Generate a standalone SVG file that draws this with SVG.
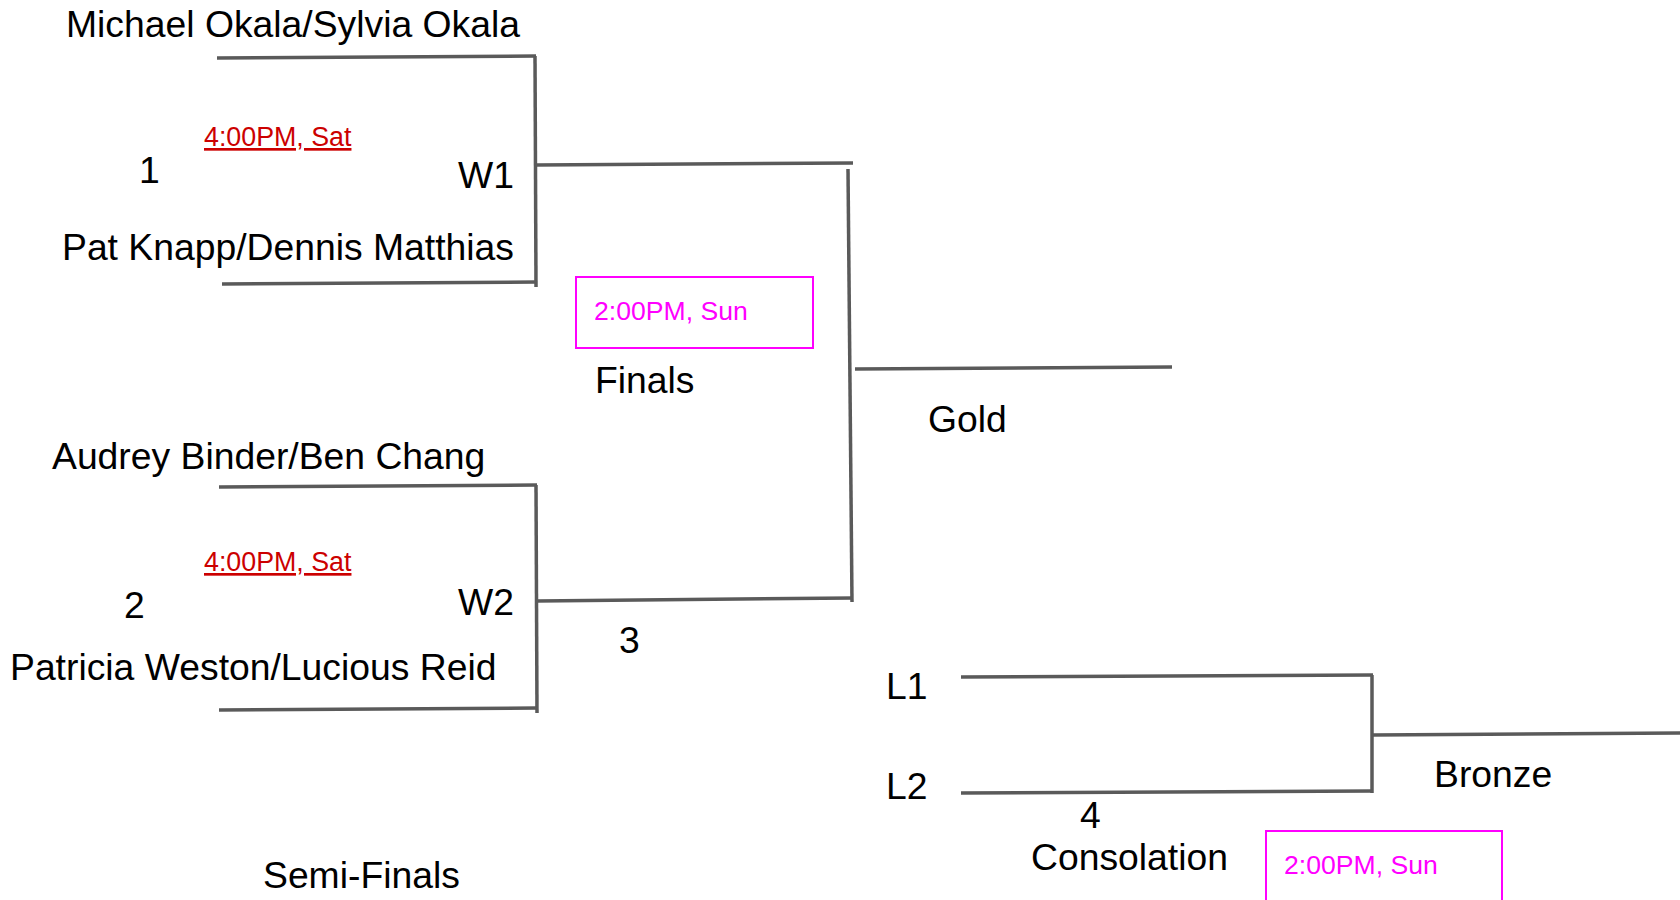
<svg xmlns="http://www.w3.org/2000/svg" width="1680" height="900" viewBox="0 0 1680 900">
<style>
.t{font-family:"Liberation Sans",Arial,sans-serif;font-size:37.3px;fill:#000}
.red{font-family:"Liberation Sans",Arial,sans-serif;font-size:26.8px;fill:#cc0000;text-decoration:underline}
.mag{font-family:"Liberation Sans",Arial,sans-serif;font-size:26.6px;fill:#ff00ff}
.box{fill:none;stroke:#ff00ff;stroke-width:2}
.ln{stroke:#5a5a5a;stroke-width:3.5;fill:none;stroke-linecap:butt}
</style>
<rect width="1680" height="900" fill="#fff"/>
<g id="connectors">
<line class="ln" x1="217" y1="58" x2="536" y2="56"/>
<line class="ln" x1="535" y1="56" x2="536" y2="287"/>
<line class="ln" x1="222" y1="284" x2="537" y2="282"/>
<line class="ln" x1="536" y1="165" x2="853" y2="163"/>
<line class="ln" x1="848" y1="169" x2="852" y2="602"/>
<line class="ln" x1="537" y1="601" x2="853" y2="598"/>
<line class="ln" x1="219" y1="487" x2="537" y2="485"/>
<line class="ln" x1="536" y1="485" x2="537" y2="713"/>
<line class="ln" x1="219" y1="710" x2="537" y2="708"/>
<line class="ln" x1="855" y1="369" x2="1172" y2="367"/>
<line class="ln" x1="961" y1="677" x2="1373" y2="675"/>
<line class="ln" x1="1372" y1="675" x2="1372" y2="793"/>
<line class="ln" x1="961" y1="793" x2="1373" y2="791"/>
<line class="ln" x1="1373" y1="735" x2="1680" y2="733"/>
</g>
<g id="team-okala"><text class="t" x="66" y="37">Michael Okala/Sylvia Okala</text></g>
<g id="team-knapp"><text class="t" x="62" y="260">Pat Knapp/Dennis Matthias</text></g>
<g id="team-binder"><text class="t" x="52" y="469">Audrey Binder/Ben Chang</text></g>
<g id="team-weston"><text class="t" x="10" y="680">Patricia Weston/Lucious Reid</text></g>
<g id="match-1"><text class="t" x="139" y="183">1</text><text class="red" x="204" y="146">4:00PM, Sat</text></g>
<g id="match-2"><text class="t" x="124" y="618">2</text><text class="red" x="204" y="571">4:00PM, Sat</text></g>
<g id="w1"><text class="t" x="458" y="188">W1</text></g>
<g id="w2"><text class="t" x="458" y="615">W2</text></g>
<g id="finals-time"><rect class="box" x="576" y="277" width="237" height="71"/><text class="mag" x="594" y="320">2:00PM, Sun</text></g>
<g id="finals"><text class="t" x="595" y="393">Finals</text></g>
<g id="gold"><text class="t" x="928" y="432">Gold</text></g>
<g id="match-3"><text class="t" x="619" y="653">3</text></g>
<g id="l1"><text class="t" x="886" y="699">L1</text></g>
<g id="l2"><text class="t" x="886" y="799">L2</text></g>
<g id="bronze"><text class="t" x="1434" y="787">Bronze</text></g>
<g id="match-4"><text class="t" x="1080" y="828">4</text></g>
<g id="consolation"><text class="t" x="1031" y="870">Consolation</text></g>
<g id="consolation-time"><rect class="box" x="1266" y="831" width="236" height="80"/><text class="mag" x="1284" y="874">2:00PM, Sun</text></g>
<g id="semi-finals"><text class="t" x="263" y="888">Semi-Finals</text></g>
</svg>
